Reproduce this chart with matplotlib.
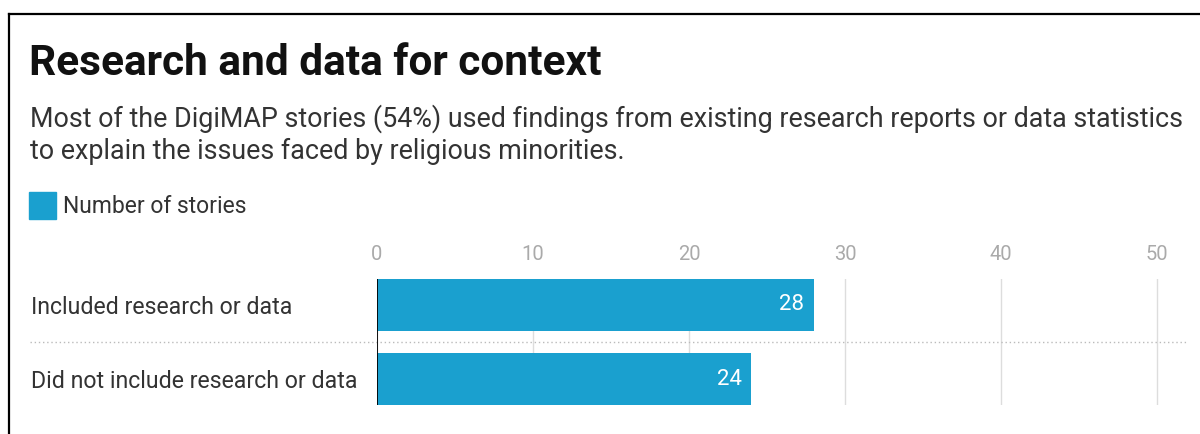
import matplotlib
matplotlib.use('Agg')
import matplotlib.pyplot as plt
from matplotlib.lines import Line2D

categories = ['Included research or data', 'Did not include research or data']
stories = [28, 24]
ticks = [0, 10, 20, 30, 40, 50]

title = 'Research and data for context'
subtitle_lines = ['Most of the DigiMAP stories (54%) used findings from existing research reports or data statistics',
                  'to explain the issues faced by religious minorities.']
legend_label = 'Number of stories'

BLUE = '#1aa0cf'
plt.rcParams['font.family'] = ['Roboto', 'DejaVu Sans']

W, H = 1200, 434
fig = plt.figure(figsize=(W / 100, H / 100), dpi=100)

def fx(px):
    return px / W

def fy(py):
    return 1 - py / H

# frame of the screenshot (left and top only)
fig.add_artist(Line2D([fx(9), fx(9)], [0, fy(14)], color='black', lw=1.6))
fig.add_artist(Line2D([fx(9), 1], [fy(14), fy(14)], color='black', lw=1.6))

fig.text(fx(29), fy(75), title, fontsize=30.5, fontweight='bold', color='#111111', va='baseline')
for i, line in enumerate(subtitle_lines):
    fig.text(fx(30), fy(127 + 32 * i), line, fontsize=19.4, color='#333333', va='baseline')

# legend swatch + label
fig.patches.append(plt.Rectangle((fx(29), fy(219)), fx(27), 27 / H, color=BLUE,
                                 transform=fig.transFigure, figure=fig))
fig.text(fx(63), fy(213), legend_label, fontsize=16.5, color='#333333', va='baseline')

xmax = 51
ax = fig.add_axes([fx(377), fy(405), fx(780 * xmax / 50), 126 / H])
y = range(len(categories))
bars = ax.barh(y, stories, height=0.70, color=BLUE, zorder=2)
ax.set_xlim(0, xmax)
ax.set_ylim(1.351, -0.351)

ax.set_xticks(ticks)
ax.grid(axis='x', color='#dddddd', lw=1)
ax.set_axisbelow(True)
ax.tick_params(axis='x', top=True, labeltop=True, bottom=False, labelbottom=False,
               length=0, pad=11, labelsize=14.5, labelcolor='#aaaaaa')

ax.set_yticks(list(y))
ax.set_yticklabels(categories)
ax.tick_params(axis='y', length=0, pad=249, labelsize=16.7, labelcolor='#333333')
for lbl in ax.get_yticklabels():
    lbl.set_ha('left')

for s in ax.spines.values():
    s.set_visible(False)
ax.axvline(0, color='black', lw=1.3, zorder=3)
span = 780 * xmax / 50
ax.axhline(0.5, xmin=(30 - 377) / span, xmax=(1188 - 377) / span, color='#bbbbbb',
           lw=1, ls=(0, (1, 2)), clip_on=False, zorder=1)

for b, v in zip(bars, stories):
    ax.annotate(str(v), (v, b.get_y() + b.get_height() / 2), xytext=(-7, 0),
                textcoords='offset points', ha='right', va='center',
                color='white', fontsize=16)

fig.savefig('out.png', dpi=100, facecolor='white')
